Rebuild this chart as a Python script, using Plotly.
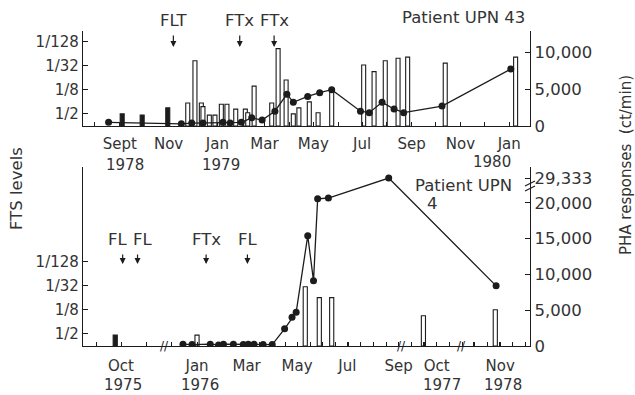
import numpy as np
import plotly.graph_objects as go

# ---------------- Patient UPN 43 (1978-1980) ----------------
# PHA responses (ct/min)
top_pha_dates = ["1978-08-18", "1978-11-17", "1978-11-30", "1978-12-14", "1979-01-08",
                 "1979-01-17", "1979-01-31", "1979-02-13", "1979-02-26", "1979-03-14",
                 "1979-03-29", "1979-04-06", "1979-04-24", "1979-05-09", "1979-05-24",
                 "1979-06-29", "1979-07-10", "1979-07-26", "1979-08-10", "1979-08-22",
                 "1979-10-09", "1980-01-03"]
top_pha_cpm = [500, 300, 400, 400, 500, 400, 500, 1100, 800, 2000,
               4300, 3200, 4000, 4500, 4900, 2000, 1800, 3200, 2300, 1800,
               2700, 7700]

# FTS titres as log2 dilution step (1 = 1/2, 3 = 1/8, 5 = 1/32, 7 = 1/128)
top_open_dates = ["1978-11-25", "1978-12-04", "1978-12-12", "1978-12-14", "1978-12-22",
                  "1978-12-29", "1979-01-06", "1979-01-13", "1979-01-24", "1979-02-05",
                  "1979-02-08", "1979-02-16", "1979-03-10", "1979-03-18", "1979-03-28",
                  "1979-04-06", "1979-04-13", "1979-04-26", "1979-05-07", "1979-05-24",
                  "1979-07-03", "1979-07-16", "1979-07-30", "1979-08-15", "1979-08-27",
                  "1979-10-13", "1980-01-09"]
top_open_fts = [1.9, 5.4, 1.9, 1.6, 0.9, 0.9, 1.8, 1.8, 1.4, 1.4,
                1.1, 3.3, 1.9, 6.4, 3.8, 1.0, 1.5, 2.0, 1.1, 3.1,
                5.05, 4.5, 5.4, 5.6, 5.7, 5.2, 5.7]
top_filled_dates = ["1978-09-04", "1978-09-29", "1978-10-31"]
top_filled_fts = [1.0, 0.9, 1.5]

top_events = ["FLT", "FTx", "FTx"]
top_event_dates = ["1978-11-07", "1979-01-29", "1979-03-13"]

top_tick_dates = ["1978-09-01", "1978-11-01", "1979-01-01", "1979-03-01", "1979-05-01",
                  "1979-07-01", "1979-09-01", "1979-11-01", "1980-01-01"]
top_tick_text = ["Sept", "Nov", "Jan", "Mar", "May", "Jul", "Sep", "Nov", "Jan"]

# ---------------- Patient UPN 4 (1975-1978) ----------------
bot_pha_dates = ["1975-12-15", "1975-12-26", "1976-01-17", "1976-01-27", "1976-02-02",
                 "1976-02-14", "1976-02-26", "1976-03-03", "1976-03-10", "1976-03-21",
                 "1976-04-01", "1976-04-16", "1976-04-25", "1976-04-30", "1976-05-14",
                 "1976-05-21", "1976-05-26", "1976-06-08", "1976-08-20", "1978-10-27"]
bot_pha_cpm = [250, 200, 250, 150, 250, 250, 200, 250, 250, 200,
               200, 2400, 4000, 4700, 15400, 9100, 21500, 21800, 29333, 8400]

bot_open_dates = ["1976-01-01", "1976-05-11", "1976-05-28", "1976-06-12", "1977-09-15",
                  "1978-10-26"]
bot_open_fts = [0.9, 4.9, 4.0, 4.0, 2.5, 3.0]
bot_filled_dates = ["1975-09-24"]
bot_filled_fts = [0.9]

bot_events = ["FL", "FL", "FTx", "FL"]
bot_event_dates = ["1975-10-03", "1975-10-21", "1976-01-12", "1976-03-02"]
bot_event_text_shift = [-5, 5, 0, 0]

bot_tick_dates = ["1975-10-01", "1976-01-01", "1976-03-01", "1976-05-01", "1976-07-01",
                  "1976-09-01", "1977-10-01", "1978-11-01"]
bot_tick_text = ["Oct", "Jan", "Mar", "May", "Jul", "Sep", "Oct", "Nov"]

fts_tick_steps = [1, 3, 5, 7]
fts_tick_text = ["1/2", "1/8", "1/32", "1/128"]
top_pha_ticks = [0, 5000, 10000]
bot_pha_ticks = [0, 5000, 10000, 15000, 20000, 29333]

# ---------------- styling / geometry ----------------
INK = "#1c1c1c"
TXT = "#333333"
FONT = "DejaVu Sans"
FS = 15
W, H = 635, 395
M = dict(l=83, r=105, t=20, b=30)
PLOT_W = W - M["l"] - M["r"]
PLOT_H = H - M["t"] - M["b"]


def py(p):
    """pixel row -> paper y"""
    return (H - M["b"] - p) / PLOT_H


def px(p):
    """pixel column -> paper x"""
    return (p - M["l"]) / PLOT_W


# broken PHA axis above 20,000 ct/min
PHA_BREAK = 20000
PHA_COMPRESS = 0.371


def pha_axis(v):
    v = np.asarray(v, dtype=float)
    return np.where(v <= PHA_BREAK, v, PHA_BREAK + (v - PHA_BREAK) * PHA_COMPRESS)


def fmt(v):
    return f"{v:,}"


BAR_W = 5 * 86400000  # 5 days in ms

fig = go.Figure()

# top panel
fig.add_bar(x=top_open_dates, y=top_open_fts, xaxis="x", yaxis="y", width=BAR_W,
            marker=dict(color="white", line=dict(color=INK, width=1.1)))
fig.add_bar(x=top_filled_dates, y=top_filled_fts, xaxis="x", yaxis="y", width=BAR_W,
            marker=dict(color=INK, line=dict(color=INK, width=1.1)))
fig.add_scatter(x=top_pha_dates, y=top_pha_cpm, xaxis="x", yaxis="y2",
                mode="lines+markers", line=dict(color=INK, width=1.3),
                marker=dict(size=7, color=INK))

# bottom panel
fig.add_bar(x=bot_open_dates, y=bot_open_fts, xaxis="x2", yaxis="y3", width=BAR_W,
            marker=dict(color="white", line=dict(color=INK, width=1.1)))
fig.add_bar(x=bot_filled_dates, y=bot_filled_fts, xaxis="x2", yaxis="y3", width=BAR_W,
            marker=dict(color=INK, line=dict(color=INK, width=1.1)))
fig.add_scatter(x=bot_pha_dates, y=pha_axis(bot_pha_cpm), xaxis="x2", yaxis="y4",
                mode="lines+markers", line=dict(color=INK, width=1.3),
                marker=dict(size=7, color=INK))

axis_base = dict(showline=True, linecolor=INK, linewidth=1.3, ticks="inside",
                 tickcolor=INK, tickwidth=1.2, showgrid=False, zeroline=False,
                 fixedrange=True, tickfont=dict(family=FONT, size=FS, color=TXT))
right_font = dict(family=FONT, size=16.5, color=TXT)

top_dom = [py(126), py(31)]
bot_dom = [py(346), py(167)]

fig.update_layout(
    width=W, height=H, margin=M, showlegend=False, barmode="overlay",
    paper_bgcolor="white", plot_bgcolor="white",
    font=dict(family=FONT, size=FS, color=TXT),
    xaxis=dict(axis_base, domain=[0, 1], anchor="y", type="date",
               range=["1978-07-17", "1980-01-27"],
               tickvals=top_tick_dates, ticktext=top_tick_text, ticklen=4,
               ticklabelstandoff=4,
               minor=dict(ticks="inside", ticklen=4, dtick="M1", tickcolor=INK,
                          tickwidth=1.2)),
    yaxis=dict(axis_base, domain=top_dom, anchor="x", range=[0, 7.86],
               tickvals=fts_tick_steps, ticktext=fts_tick_text, ticklen=5),
    yaxis2=dict(axis_base, overlaying="y", side="right", anchor="x",
                range=[0, 12838], tickvals=top_pha_ticks, tickfont=right_font,
                ticktext=[fmt(v) for v in top_pha_ticks], ticklen=5),
    xaxis2=dict(axis_base, domain=[0, 1], anchor="y3", type="date",
                range=["1975-08-16", "1978-12-07"],
                rangebreaks=[dict(bounds=["1976-09-06", "1977-08-21"]),
                             dict(bounds=["1977-11-01", "1978-09-16"])],
                tickvals=bot_tick_dates, ticktext=bot_tick_text, ticklen=4,
                ticklabelstandoff=6,
                minor=dict(ticks="inside", ticklen=4, dtick="M1", tickcolor=INK,
                           tickwidth=1.2)),
    yaxis3=dict(axis_base, domain=bot_dom, anchor="x2", range=[0, 14.79],
                tickvals=fts_tick_steps, ticktext=fts_tick_text, ticklen=5),
    yaxis4=dict(axis_base, overlaying="y3", side="right", anchor="x2",
                range=[0, 25000], tickvals=pha_axis(bot_pha_ticks).tolist(),
                tickfont=right_font,
                ticktext=[fmt(v) for v in bot_pha_ticks], ticklen=5),
)

ann = []
txt_font = dict(family=FONT, size=FS, color=TXT)
big_font = dict(family=FONT, size=16.5, color=TXT)


def arrow(xd, xr, head_row, length):
    return dict(x=xd, xref=xr, y=py(head_row), yref="paper", text="",
                showarrow=True, ax=0, ay=-length, arrowhead=2, arrowsize=1,
                arrowwidth=1.2, arrowcolor=INK)


def label(xd, xr, row, text, shift=0, font=txt_font):
    return dict(x=xd, xref=xr, y=py(row), yref="paper", text=text, xshift=shift,
                showarrow=False, xanchor="center", yanchor="middle", font=font)


# treatment arrows
for lab, d in zip(top_events, top_event_dates):
    ann.append(arrow(d, "x", 47, 13))
    ann.append(label(d, "x", 20, lab, 0, big_font))
for lab, d, s in zip(bot_events, bot_event_dates, bot_event_text_shift):
    ann.append(arrow(d, "x2", 264, 11))
    ann.append(label(d, "x2", 240, lab, s, big_font))

# year labels under the month ticks
for year, d, shift, row, xr in [("1978", "1978-09-01", 5, 165, "x"),
                                ("1979", "1979-01-01", 4, 165, "x"),
                                ("1980", "1980-01-01", -17, 162, "x"),
                                ("1975", "1975-10-01", 2, 385, "x2"),
                                ("1976", "1976-01-01", 3, 385, "x2"),
                                ("1977", "1977-10-01", 5, 385, "x2"),
                                ("1978", "1978-11-01", 3, 385, "x2")]:
    ann.append(label(d, xr, row, year, shift))

# panel titles
ann.append(label(px(463), "paper", 17, "Patient UPN 43", 0, big_font))
ann.append(label(px(463), "paper", 185, "Patient UPN", 0, big_font))
ann.append(label(px(432), "paper", 203, "4", 0, big_font))

# axis titles
ann.append(dict(label(px(16), "paper", 189, "FTS levels", 0, big_font), textangle=-90))
ann.append(dict(label(px(626), "paper", 165, "PHA responses  (ct/min)"), textangle=-90))

# break marks on the time axis of the lower panel
for d in ["1975-11-23", "1976-09-05", "1977-10-31"]:
    ann.append(label(d, "x2", 346, "//", 0, dict(family=FONT, size=12, color=INK)))

fig.update_layout(annotations=ann)

# break mark on the PHA axis of the lower panel
for y0 in (191, 186):
    fig.add_shape(type="line", xref="paper", yref="paper",
                  x0=px(525), x1=px(535), y0=py(y0), y1=py(y0 - 5),
                  line=dict(color=INK, width=1.2))

fig.write_html("out.html")
